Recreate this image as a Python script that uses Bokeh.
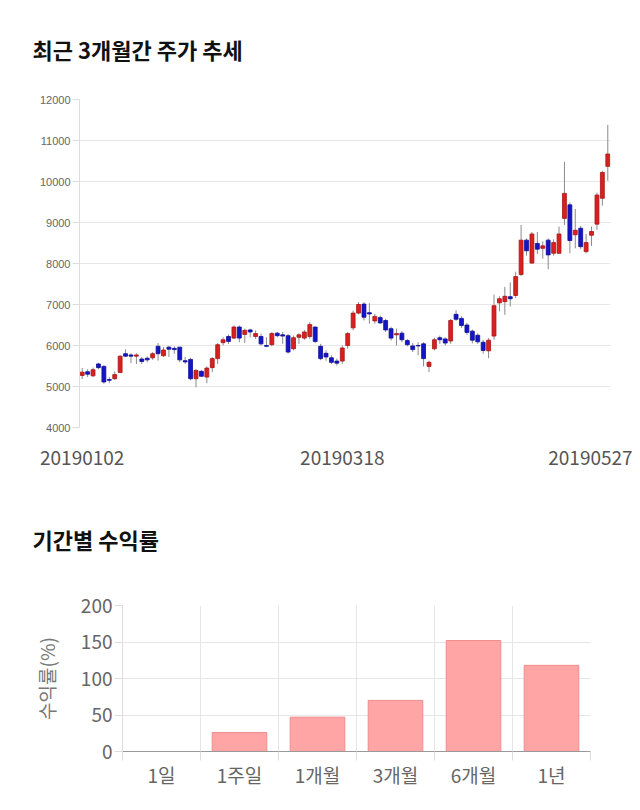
from bokeh.plotting import figure
from bokeh.models import Range1d, FixedTicker, ColumnDataSource, Title
from bokeh.embed import file_html
from bokeh.resources import INLINE

# ---- data: daily candles (2019-01-02 .. 2019-05-27) ----
opens = [5270, 5360, 5260, 5550, 5490, 5170, 5190, 5340, 5800, 5770,
         5740, 5670, 5690, 5700, 5980, 5750, 5960, 5930, 5960, 5630,
         5660, 5190, 5370, 5230, 5460, 5680, 6070, 6220, 6180, 6450,
         6270, 6380, 6220, 6220, 6000, 6020, 6300, 6260, 6240, 5920,
         6200, 6180, 6220, 6450, 5980, 5810, 5700, 5620, 5620, 6000,
         6430, 6790, 7010, 6800, 6600, 6680, 6610, 6410, 6260, 6300,
         6120, 5990, 6000, 6040, 5490, 5920, 6190, 6160, 6110, 6760,
         6660, 6500, 6350, 6250, 6080, 5870, 6230, 7040, 7070, 7190,
         7220, 7730, 8570, 8010, 8490, 8370, 8570, 8250, 8250, 9100,
         9430, 8700, 8860, 8290, 8690, 8960, 9590, 10370]
highs = [5450, 5420, 5460, 5580, 5520, 5230, 5370, 5760, 5910, 5810,
         5810, 5720, 5730, 5840, 6060, 5960, 5990, 5980, 5960, 5720,
         5700, 5430, 5400, 5490, 5720, 6060, 6200, 6270, 6490, 6490,
         6410, 6410, 6370, 6290, 6200, 6330, 6330, 6330, 6280, 6240,
         6300, 6380, 6570, 6460, 6040, 5880, 5760, 5680, 6000, 6330,
         6850, 7060, 7060, 7030, 6770, 6730, 6650, 6460, 6410, 6350,
         6160, 6060, 6080, 6080, 5630, 6190, 6240, 6200, 6650, 6860,
         6710, 6550, 6390, 6300, 6140, 6180, 7240, 7200, 7430, 7540,
         7800, 8940, 8610, 8770, 8770, 8540, 8610, 8590, 8900, 10480,
         9490, 9330, 8920, 8720, 8900, 9730, 10260, 11380]
lows = [5180, 5230, 5230, 5420, 5070, 5080, 5160, 5330, 5720, 5570,
        5550, 5550, 5590, 5650, 5630, 5720, 5720, 5800, 5590, 5550,
        5150, 4980, 5230, 5080, 5350, 5550, 6000, 6040, 6160, 6080,
        6060, 6200, 6160, 6000, 5960, 5980, 6200, 6040, 5800, 5880,
        6040, 6140, 6160, 6060, 5640, 5630, 5550, 5510, 5550, 5920,
        6370, 6760, 6610, 6530, 6530, 6530, 6330, 6120, 6000, 6080,
        5980, 5840, 5760, 5490, 5350, 5880, 6040, 6000, 6040, 6600,
        6430, 6260, 6050, 6040, 5800, 5690, 6140, 6830, 6750, 6950,
        7160, 7700, 8190, 7990, 8230, 8120, 7860, 8190, 8230, 8940,
        8250, 8370, 8350, 8250, 8430, 8820, 9410, 10020]
closes = [5350, 5300, 5410, 5460, 5110, 5150, 5290, 5740, 5740, 5740,
          5770, 5610, 5650, 5800, 5800, 5890, 5910, 5900, 5650, 5600,
          5190, 5390, 5250, 5450, 5680, 6020, 6140, 6100, 6450, 6180,
          6370, 6330, 6290, 6040, 5980, 6290, 6240, 6230, 5840, 6190,
          6260, 6330, 6510, 6100, 5680, 5720, 5590, 5570, 5940, 6290,
          6790, 7000, 6690, 6770, 6710, 6550, 6380, 6180, 6290, 6140,
          6020, 5900, 5990, 5680, 5590, 6140, 6140, 6060, 6610, 6640,
          6490, 6320, 6130, 6090, 5880, 6130, 6970, 7140, 7200, 7140,
          7680, 8570, 8310, 8720, 8350, 8430, 8210, 8510, 8720, 9710,
          8560, 8810, 8410, 8510, 8780, 9670, 10220, 10670]
tick_dates = ["20190102", "20190318", "20190527"]
tick_days = [0, 48, 97]          # candle index of each labelled date
price_ticks = [4000, 5000, 6000, 7000, 8000, 9000, 10000, 11000, 12000]

# ---- data: period returns ----
periods = ["1일", "1주일", "1개월", "3개월", "6개월", "1년"]
returns = [0, 26, 47, 70, 152, 118]
return_ticks = [0, 50, 100, 150, 200]

KFONT = "Noto Sans CJK KR"


def add_title(p, text, spacer):
    # spacer panel (nearest the frame) then the visible heading above it
    p.add_layout(Title(text=" ", text_font_size="1px", standoff=spacer), "above")
    p.add_layout(Title(text=text, text_font=KFONT, text_font_size="22px",
                       text_font_style="bold", text_color="#111111",
                       standoff=61, offset=32 - p.min_border_left), "above")


# ================= candlestick chart =================
n = len(opens)
idx = list(range(n))
up = [c >= o for o, c in zip(opens, closes)]
src = ColumnDataSource(dict(
    x=idx,
    high=highs,
    low=lows,
    top=[max(o, c) for o, c in zip(opens, closes)],
    bottom=[min(o, c) for o, c in zip(opens, closes)],
    fill=["#d8201f" if u else "#1515c8" for u in up],
    edge=["#a81414" if u else "#0c0c96" for u in up],
))

p1 = figure(width=640, height=490, output_backend="svg", toolbar_location=None,
            title=None,
            x_range=Range1d(-0.5, n - 0.5), y_range=Range1d(4000, 12000),
            min_border_left=79, min_border_right=30, min_border_top=0,
            min_border_bottom=63)
add_title(p1, "최근 3개월간 주가 추세", 1)

p1.segment(x0="x", y0="low", x1="x", y1="high", source=src,
           line_color="#8a8a8a", line_width=1)
p1.vbar(x="x", width=0.72, top="top", bottom="bottom", source=src,
        fill_color="fill", line_color="edge", line_width=0.8)

# the last date label is kept inside the canvas (clamped), as in the original
tick_pos = [tick_days[0], tick_days[1], tick_days[2] - 3.2]
p1.xaxis.ticker = FixedTicker(ticks=tick_pos)
p1.xaxis.major_label_overrides = {k: v for k, v in zip(tick_pos, tick_dates)}
p1.xaxis.axis_line_color = None
p1.xaxis.major_tick_line_color = None
p1.xaxis.minor_tick_line_color = None
p1.xaxis.major_label_standoff = 17
p1.xaxis.major_label_text_font = KFONT
p1.xaxis.major_label_text_font_size = "19px"
p1.xaxis.major_label_text_color = "#555555"

p1.yaxis.ticker = FixedTicker(ticks=price_ticks)
p1.yaxis.axis_line_color = "#dddddd"
p1.yaxis.major_tick_line_color = "#dddddd"
p1.yaxis.major_tick_out = 7
p1.yaxis.major_tick_in = 0
p1.yaxis.minor_tick_line_color = None
p1.yaxis.major_label_standoff = 2
p1.yaxis.major_label_text_font = "Liberation Sans"
p1.yaxis.major_label_text_font_size = "11px"
p1.yaxis.major_label_text_color = "#666666"

p1.xgrid.grid_line_color = None
p1.ygrid.grid_line_color = "#e6e6e6"
p1.outline_line_color = None

# ================= returns bar chart =================
m = len(periods)
centers = [i + 0.5 for i in range(m)]
bounds = list(range(m + 1))

p2 = figure(width=640, height=320, output_backend="svg", toolbar_location=None,
            title=None,
            x_range=Range1d(0, m), y_range=Range1d(0, 200),
            min_border_left=122, min_border_right=50, min_border_top=0,
            min_border_bottom=59)
add_title(p2, "기간별 수익률", 17)

p2.vbar(x=centers, top=returns, width=0.7, bottom=0,
        fill_color="#ffa5a5", line_color="#f08c8c", line_width=1)

xt = FixedTicker(ticks=centers, minor_ticks=bounds)
p2.xaxis.ticker = xt
p2.xgrid.ticker = xt
p2.xaxis.major_label_overrides = {c: lab for c, lab in zip(centers, periods)}
p2.xaxis.axis_line_color = "#999999"
p2.xaxis.major_tick_line_color = None
p2.xaxis.major_tick_out = 0
p2.xaxis.minor_tick_line_color = "#dddddd"
p2.xaxis.minor_tick_out = 9
p2.xaxis.minor_tick_in = 0
p2.xaxis.major_label_standoff = 0
p2.xaxis.major_label_text_font = KFONT
p2.xaxis.major_label_text_font_size = "19px"
p2.xaxis.major_label_text_color = "#666666"
p2.xgrid.grid_line_color = None
p2.xgrid.minor_grid_line_color = "#e6e6e6"

p2.yaxis.ticker = FixedTicker(ticks=return_ticks)
p2.yaxis.axis_line_color = "#dddddd"
p2.yaxis.major_tick_line_color = "#dddddd"
p2.yaxis.major_tick_out = 8
p2.yaxis.major_tick_in = 0
p2.yaxis.minor_tick_line_color = None
p2.yaxis.major_label_standoff = 2
p2.yaxis.major_label_text_font = KFONT
p2.yaxis.major_label_text_font_size = "19px"
p2.yaxis.major_label_text_color = "#666666"
p2.yaxis.axis_label = "수익률(%)"
p2.yaxis.axis_label_text_font = KFONT
p2.yaxis.axis_label_text_font_size = "19px"
p2.yaxis.axis_label_text_font_style = "normal"
p2.yaxis.axis_label_text_color = "#777777"
p2.yaxis.axis_label_standoff = 18
p2.ygrid.grid_line_color = "#e6e6e6"
p2.outline_line_color = None

open("out.html", "w").write(file_html([p1, p2], INLINE))
